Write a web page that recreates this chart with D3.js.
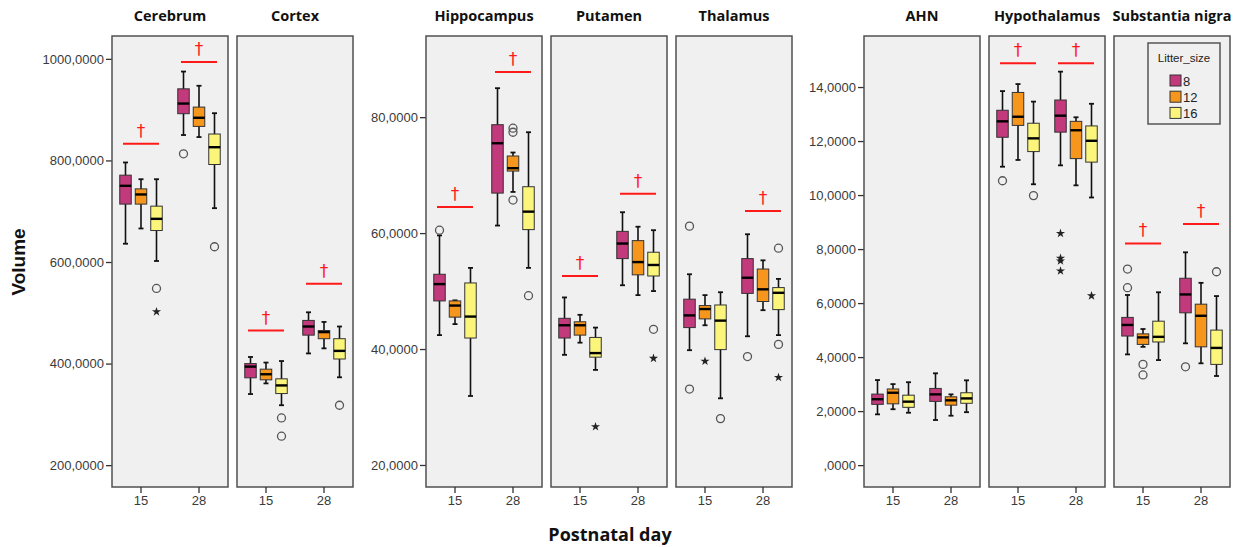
<!DOCTYPE html>
<html>
<head>
<meta charset="utf-8">
<script src="https://cdn.jsdelivr.net/npm/d3@7/dist/d3.min.js"></script>
<style>
  body { margin: 0; background: #fff; }
  svg { display: block; }
</style>
</head>
<body>
<svg id="chart" width="1238" height="547"></svg>
<script>
// ---- data ----
const days = ['15', '28'];
const litterSizes = ['8', '12', '16'];
const litterColors = ['#c2397c', '#f7961c', '#fbf57c'];

// box stats per [day][litter]: [low whisker, q1, median, q3, high whisker]
const cerebrumBoxes = [
  [[636, 714, 750, 771, 796], [666, 714, 733, 744, 763], [602, 662, 685, 710, 763]],
  [[850, 892, 912, 941, 975], [846, 867, 884, 905, 947], [706, 792, 826, 852, 893]]
];
const cortexBoxes = [
  [[340, 372, 394, 400, 413], [361, 368, 379, 389, 402], [318, 341, 357, 370, 405]],
  [[420, 456, 473, 485, 501], [430, 449, 462, 465, 482], [373, 409, 425, 449, 473]]
];
const hippocampusBoxes = [
  [[42.4, 48.3, 51.2, 52.9, 59.6], [44.3, 45.5, 47.5, 48.3, 48.4], [31.9, 41.9, 45.6, 51.4, 54.0]],
  [[61.3, 66.9, 75.5, 78.7, 85.0], [67.1, 70.7, 71.2, 73.3, 73.9], [54.0, 60.6, 63.7, 68.0, 77.4]]
];
const putamenBoxes = [
  [[39.0, 41.9, 44.1, 45.3, 48.9], [41.1, 42.4, 44.1, 44.7, 45.9], [36.4, 38.6, 39.3, 42.0, 43.7]],
  [[51.0, 55.6, 58.2, 60.3, 63.6], [49.3, 52.8, 55.0, 58.7, 61.1], [50.0, 52.6, 54.5, 56.7, 60.5]]
];
const thalamusBoxes = [
  [[39.8, 43.7, 45.8, 48.6, 52.9], [44.1, 45.2, 46.9, 47.5, 49.3], [31.5, 39.9, 44.9, 47.6, 49.8]],
  [[42.2, 49.6, 52.3, 55.6, 59.8], [46.7, 48.2, 50.3, 53.8, 55.3], [42.4, 46.8, 49.7, 50.6, 52.1]]
];
const ahnBoxes = [
  [[1.88, 2.25, 2.44, 2.63, 3.15], [2.07, 2.27, 2.68, 2.82, 3.00], [1.94, 2.14, 2.35, 2.59, 3.07]],
  [[1.67, 2.36, 2.62, 2.84, 3.40], [1.83, 2.22, 2.40, 2.53, 2.62], [1.96, 2.29, 2.47, 2.68, 3.14]]
];
const hypothalamusBoxes = [
  [[11.05, 12.14, 12.73, 13.14, 13.85], [11.30, 12.58, 12.90, 13.80, 14.11], [10.40, 11.61, 12.10, 12.66, 13.46]],
  [[11.10, 12.33, 12.94, 13.52, 14.57], [10.36, 11.35, 12.40, 12.73, 12.88], [9.91, 11.22, 12.01, 12.56, 13.38]]
];
const nigraBoxes = [
  [[4.10, 4.78, 5.19, 5.47, 6.30], [4.38, 4.47, 4.73, 4.86, 5.04], [3.89, 4.56, 4.75, 5.33, 6.40]],
  [[4.51, 5.64, 6.32, 6.92, 7.88], [3.77, 4.38, 5.53, 5.96, 6.75], [3.30, 3.73, 4.34, 5.00, 6.26]]
];

// outliers: [day, litter, value, kind]  kind 'o' = circle, '*' = extreme
const cerebrumOutliers = [['15', '16', 548, 'o'], ['15', '16', 502, '*'], ['28', '8', 813, 'o'], ['28', '16', 630, 'o']];
const cortexOutliers = [['15', '16', 293, 'o'], ['15', '16', 257, 'o'], ['28', '16', 318, 'o']];
const hippocampusOutliers = [['15', '8', 60.5, 'o'], ['28', '12', 78.1, 'o'], ['28', '12', 77.4, 'o'], ['28', '12', 65.7, 'o'], ['28', '16', 49.2, 'o']];
const putamenOutliers = [['15', '16', 26.6, '*'], ['28', '16', 43.4, 'o'], ['28', '16', 38.4, '*']];
const thalamusOutliers = [['15', '8', 61.2, 'o'], ['15', '8', 33.1, 'o'], ['15', '12', 37.9, '*'], ['15', '16', 28.0, 'o'],
  ['28', '8', 38.7, 'o'], ['28', '16', 57.4, 'o'], ['28', '16', 40.8, 'o'], ['28', '16', 35.1, '*']];
const ahnOutliers = [];
const hypothalamusOutliers = [['15', '8', 10.53, 'o'], ['15', '16', 9.98, 'o'], ['28', '8', 8.58, '*'], ['28', '8', 7.66, '*'],
  ['28', '8', 7.56, '*'], ['28', '8', 7.19, '*'], ['28', '16', 6.27, '*']];
const nigraOutliers = [['15', '8', 7.26, 'o'], ['15', '8', 6.57, 'o'], ['15', '12', 3.73, 'o'], ['15', '12', 3.34, 'o'],
  ['28', '8', 3.64, 'o'], ['28', '16', 7.16, 'o']];

// significance marks (†): [day, level of the bar]
const cerebrumMarks = [['15', 833], ['28', 994]];
const cortexMarks = [['15', 465], ['28', 557]];
const hippocampusMarks = [['15', 64.5], ['28', 87.8]];
const putamenMarks = [['15', 52.6], ['28', 66.8]];
const thalamusMarks = [['28', 63.8]];
const ahnMarks = [];
const hypothalamusMarks = [['15', 14.88], ['28', 14.88]];
const nigraMarks = [['15', 8.21], ['28', 8.93]];

const ticksLarge = [200, 400, 600, 800, 1000];
const ticksMedium = [20, 40, 60, 80];
const ticksSmall = [0, 2, 4, 6, 8, 10, 12, 14];

// ---- layout ----
const groups = [
  { left: 112, domain: [157, 1045], ticks: ticksLarge, panels: [
    { name: 'Cerebrum', boxes: cerebrumBoxes, outliers: cerebrumOutliers, marks: cerebrumMarks },
    { name: 'Cortex', boxes: cortexBoxes, outliers: cortexOutliers, marks: cortexMarks }] },
  { left: 426, domain: [16.2, 94.0], ticks: ticksMedium, panels: [
    { name: 'Hippocampus', boxes: hippocampusBoxes, outliers: hippocampusOutliers, marks: hippocampusMarks },
    { name: 'Putamen', boxes: putamenBoxes, outliers: putamenOutliers, marks: putamenMarks },
    { name: 'Thalamus', boxes: thalamusBoxes, outliers: thalamusOutliers, marks: thalamusMarks }] },
  { left: 864, domain: [-0.81, 15.89], ticks: ticksSmall, panels: [
    { name: 'AHN', boxes: ahnBoxes, outliers: ahnOutliers, marks: ahnMarks },
    { name: 'Hypothalamus', boxes: hypothalamusBoxes, outliers: hypothalamusOutliers, marks: hypothalamusMarks },
    { name: 'Substantia nigra', boxes: nigraBoxes, outliers: nigraOutliers, marks: nigraMarks, legend: true }] }
];

const panelW = 116, panelGap = 9, plotTop = 36, plotBottom = 487;
const tickFont = '"Liberation Sans", Arial, sans-serif';
const titleFont = '"Open Sans", "Noto Sans", sans-serif';
const fmt = d => (d === 0 ? '' : d) + ',0000';

const svg = d3.select('#chart');

groups.forEach(g => {
  const y = d3.scaleLinear().domain(g.domain).range([plotBottom, plotTop]);

  // y axis of the group
  const yAxis = svg.append('g')
    .attr('transform', `translate(${g.left},0)`)
    .call(d3.axisLeft(y).tickValues(g.ticks).tickFormat(fmt).tickSize(6).tickPadding(2));
  yAxis.select('.domain').remove();
  yAxis.selectAll('line').attr('stroke', '#333').attr('stroke-width', 1.3);
  yAxis.selectAll('text').attr('fill', '#3a3a3a').style('font', `13px ${tickFont}`);

  g.panels.forEach((p, i) => {
    const px = g.left + i * (panelW + panelGap);
    const panel = svg.append('g').attr('transform', `translate(${px},0)`);
    const x = d3.scaleBand().domain(days).range([0, panelW]);

    panel.append('rect')
      .attr('x', 0).attr('y', plotTop)
      .attr('width', panelW).attr('height', plotBottom - plotTop)
      .attr('fill', '#f0f0f0').attr('stroke', '#505050').attr('stroke-width', 1.5);

    panel.append('text')
      .attr('x', panelW / 2).attr('y', 21)
      .attr('text-anchor', 'middle')
      .style('font', `bold 14.5px ${titleFont}`)
      .attr('fill', '#111')
      .text(p.name);

    // x axis
    const xAxis = panel.append('g')
      .attr('transform', `translate(0,${plotBottom})`)
      .call(d3.axisBottom(x).tickSize(6).tickPadding(3));
    xAxis.select('.domain').remove();
    xAxis.selectAll('line').attr('stroke', '#333').attr('stroke-width', 1.3);
    xAxis.selectAll('text').attr('fill', '#3a3a3a').style('font', `13px ${tickFont}`);

    const inner = day => d3.scalePoint().domain(litterSizes)
      .range([x(day) + x.bandwidth() / 2 - 15.5, x(day) + x.bandwidth() / 2 + 15.5]);
    const boxW = 11.5, capW = 5;

    days.forEach((day, di) => {
      const xs = inner(day);
      litterSizes.forEach((ls, li) => {
        const [lo, q1, med, q3, hi] = p.boxes[di][li];
        const cx = xs(ls);
        const b = panel.append('g');
        b.append('line').attr('x1', cx).attr('x2', cx).attr('y1', y(hi)).attr('y2', y(lo))
          .attr('stroke', '#111').attr('stroke-width', 1.6);
        [lo, hi].forEach(v => b.append('line')
          .attr('x1', cx - capW / 2).attr('x2', cx + capW / 2).attr('y1', y(v)).attr('y2', y(v))
          .attr('stroke', '#111').attr('stroke-width', 1.8));
        b.append('rect')
          .attr('x', cx - boxW / 2).attr('y', y(q3))
          .attr('width', boxW).attr('height', y(q1) - y(q3))
          .attr('fill', litterColors[li]).attr('stroke', '#333').attr('stroke-width', 1);
        b.append('line').attr('x1', cx - boxW / 2).attr('x2', cx + boxW / 2)
          .attr('y1', y(med)).attr('y2', y(med))
          .attr('stroke', '#000').attr('stroke-width', 2.4);
      });
    });

    // outliers
    p.outliers.forEach(([day, ls, v, kind]) => {
      const cx = inner(day)(ls);
      if (kind === 'o') {
        panel.append('circle').attr('cx', cx).attr('cy', y(v)).attr('r', 4)
          .attr('fill', 'none').attr('stroke', '#555').attr('stroke-width', 1.3);
      } else {
        panel.append('path')
          .attr('d', d3.symbol(d3.symbolStar, 26)())
          .attr('transform', `translate(${cx},${y(v)})`)
          .attr('fill', '#222');
      }
    });

    // † marks
    p.marks.forEach(([day, v]) => {
      const cx = x(day) + x.bandwidth() / 2;
      panel.append('line').attr('x1', cx - 18).attr('x2', cx + 18)
        .attr('y1', y(v)).attr('y2', y(v))
        .attr('stroke', '#ff1a1a').attr('stroke-width', 2);
      panel.append('text').attr('x', cx).attr('y', y(v) - 7)
        .attr('text-anchor', 'middle')
        .style('font', `17px "DejaVu Sans", sans-serif`)
        .attr('fill', '#ff1a1a')
        .text('†');
    });

    if (p.legend) {
      const lg = panel.append('g').attr('transform', `translate(${34},43)`);
      lg.append('rect').attr('width', 72).attr('height', 81)
        .attr('fill', '#f0f0f0').attr('stroke', '#555').attr('stroke-width', 1.5);
      lg.append('text').attr('x', 36).attr('y', 19).attr('text-anchor', 'middle')
        .style('font', `11.5px ${tickFont}`).attr('fill', '#222').text('Litter_size');
      litterSizes.forEach((ls, li) => {
        const row = lg.append('g').attr('transform', `translate(22,${32 + li * 16.2})`);
        row.append('rect').attr('width', 11).attr('height', 11)
          .attr('fill', litterColors[li]).attr('stroke', '#333').attr('stroke-width', 1);
        row.append('text').attr('x', 13).attr('y', 10.5)
          .style('font', `13px ${tickFont}`).attr('fill', '#222').text(ls);
      });
    }
  });
});

// axis titles
svg.append('text')
  .attr('transform', 'translate(25,262) rotate(-90)')
  .attr('text-anchor', 'middle')
  .style('font', `bold 19px ${tickFont}`)
  .attr('fill', '#111')
  .text('Volume');

svg.append('text')
  .attr('x', 610).attr('y', 541)
  .attr('text-anchor', 'middle')
  .style('font', `bold 18px ${titleFont}`)
  .attr('fill', '#111')
  .text('Postnatal day');
</script>
</body>
</html>
